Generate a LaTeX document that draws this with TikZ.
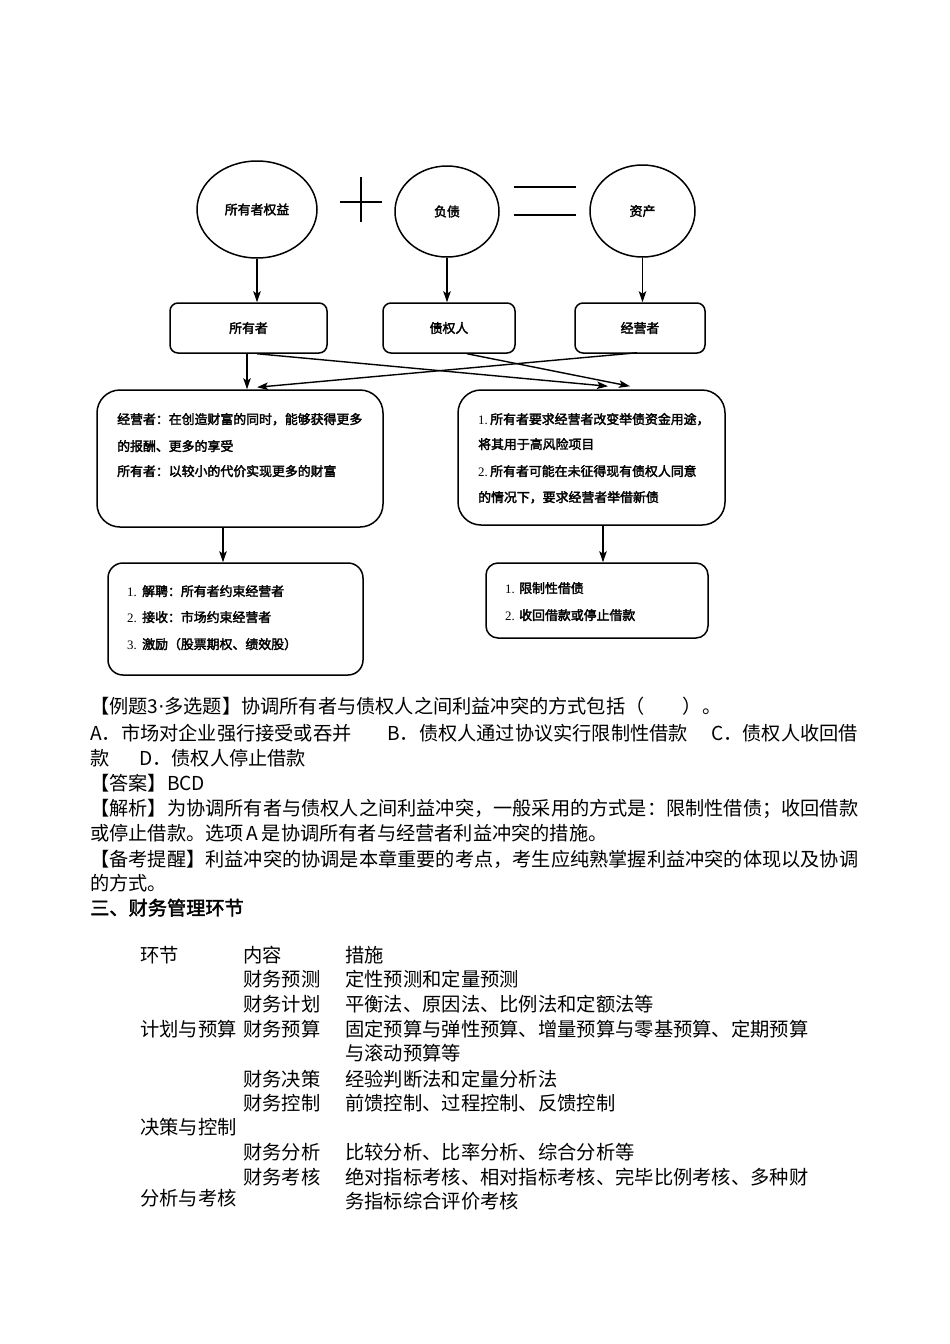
\documentclass[tikz,border=0pt]{standalone}
\usepackage{fontspec}
\setmainfont{Noto Sans CJK SC}
\newfontfamily\cjkb[FakeBold=2.5]{Noto Sans CJK SC}
\newfontfamily\cjkh[FakeBold=2]{Noto Sans CJK SC}
\newfontfamily\lserif{Liberation Serif}
\newfontfamily\lsans{DejaVu Sans}
\usetikzlibrary{shapes.geometric,arrows.meta}
\newcommand{\dn}[2][12pt]{\makebox[#1][l]{\lserif\fontsize{12.9}{15}\selectfont #2}}
\begin{document}
\begin{tikzpicture}[x=1pt,y=-1pt,
  shp/.style={draw, line width=1.5pt},
  circ/.style={shp, ellipse, inner sep=0, font=\cjkb\fontsize{12.9}{15}\selectfont},
  box/.style={shp, rectangle, rounded corners=#1, inner sep=0, font=\cjkb\fontsize{12.9}{15}\selectfont},
  box/.default=8pt,
  arr/.style={line width=1.4pt, -{Stealth[length=11pt,width=7.5pt,inset=2.5pt]}},
  body/.style={anchor=base west, inner sep=0, font=\fontsize{19.2}{23}\selectfont},
  tab/.style={anchor=base west, inner sep=0, font=\fontsize{19.3}{23}\selectfont},
  dtx/.style={anchor=base west, inner sep=0, font=\cjkb\fontsize{12.9}{15}\selectfont}
]
\useasboundingbox (0,0) rectangle (950,1344);
\fill[white] (0,0) rectangle (950,1344);

% top ellipses
\node[circ, minimum width=120pt, minimum height=97pt] (c1) at (257,209.5) {所有者权益};
\node[circ, minimum width=104pt, minimum height=91pt] (c2) at (447,211.5) {负债};
\node[circ, minimum width=105pt, minimum height=92pt] (c3) at (642.5,211) {资产};
% plus and equals
\draw[line width=1.5pt] (340,202) -- (382,202) (361,177) -- (361,222);
\draw[line width=1.5pt] (514,187) -- (576,187) (514,215) -- (576,215);

% parties
\node[box, minimum width=157pt, minimum height=50pt] (b1) at (248.5,328) {所有者};
\node[box, minimum width=132pt, minimum height=50pt] (b2) at (449,328) {债权人};
\node[box, minimum width=130pt, minimum height=50pt] (b3) at (640,328) {经营者};

% conflict boxes
\node[box=23pt, minimum width=286pt, minimum height=137pt] (L) at (240,458.5) {};
\node[box=23pt, minimum width=267pt, minimum height=135pt] (R) at (591.5,457.5) {};
% solution boxes
\node[box=15pt, minimum width=255pt, minimum height=112pt] (LL) at (235.5,619) {};
\node[box=12pt, minimum width=222pt, minimum height=75pt] (RR) at (597,600.5) {};

% arrows
\draw[arr] (c1.south) -- (c1.south |- b1.north);
\draw[arr] (c2.south) -- (c2.south |- b2.north);
\draw[arr] (c3.south) -- (c3.south |- b3.north);
\draw[arr] ([xshift=-1.5pt]b1.south) -- ([xshift=-1.5pt]b1.south |- L.north);
\draw[arr] ([xshift=8.5pt]b1.south) -- ([xshift=16.5pt,yshift=3pt]R.north);
\draw[arr] ([xshift=18pt]b2.south) -- ([xshift=38.5pt,yshift=3pt]R.north);
\draw[arr] ([xshift=-3pt,yshift=1pt]b3.south) -- ([xshift=17pt,yshift=2pt]L.north);
\draw[arr] ([xshift=-17pt]L.south) -- ([xshift=-17pt]L.south |- LL.north);
\draw[arr] ([xshift=11.5pt]R.south) -- ([xshift=11.5pt]R.south |- RR.north);

% texts in boxes
\node[dtx] (l1) at (117,424) {经营者：在创造财富的同时，能够获得更多};
\node[dtx] (l2) at (117,451) {的报酬、更多的享受};
\node[dtx] (l3) at (117,476) {所有者：以较小的代价实现更多的财富};
\node[dtx] (r1) at (478,424) {\dn{1.}所有者要求经营者改变举债资金用途，};
\node[dtx] (r2) at (478,449) {将其用于高风险项目};
\node[dtx] (r3) at (478,476) {\dn{2.}所有者可能在未征得现有债权人同意};
\node[dtx] (r4) at (478,502) {的情况下，要求经营者举借新债};
\node[dtx] (ll1) at (127,596) {\dn[15pt]{1.}解聘：所有者约束经营者};
\node[dtx] (ll2) at (127,622) {\dn[15pt]{2.}接收：市场约束经营者};
\node[dtx] (ll3) at (127,649) {\dn[15pt]{3.}激励（股票期权、绩效股）};
\node[dtx] (rr1) at (505,593) {\dn[14pt]{1.}限制性借债};
\node[dtx] (rr2) at (505,620) {\dn[14pt]{2.}收回借款或停止借款};

% body text
\node[body] (p1) at (90,713) {【例题3{\lsans·}多选题】协调所有者与债权人之间利益冲突的方式包括（　　）。};
\node[body] (p2a) at (90,740) {A．市场对企业强行接受或吞并};
\node[body] (p2b) at (387,740) {B．债权人通过协议实行限制性借款};
\node[body] (p2c) at (711,740) {C．债权人收回借};
\node[body] (p3a) at (90,765) {款};
\node[body] (p3b) at (139,765) {D．债权人停止借款};
\node[body] (p4) at (90,790) {【答案】BCD};
\node[body] (p5) at (90,815) {【解析】为协调所有者与债权人之间利益冲突，一般采用的方式是：限制性借债；收回借款};
\node[body] (p6) at (90,840) {或停止借款。选项\,A\,是协调所有者与经营者利益冲突的措施。};
\node[body] (p7) at (90,866) {【备考提醒】利益冲突的协调是本章重要的考点，考生应纯熟掌握利益冲突的体现以及协调};
\node[body] (p8) at (90,890) {的方式。};
\node[body, font=\cjkh\fontsize{19.2}{23}\selectfont] (p9) at (90,915) {三、财务管理环节};

% table
\node[tab] (h1) at (140,962) {环节};
\node[tab] (h2) at (243,962) {内容};
\node[tab] (h3) at (345,962) {措施};
\node[tab] (a1) at (243,986) {财务预测};
\node[tab] (a2) at (345,986) {定性预测和定量预测};
\node[tab] (b1t) at (243,1011) {财务计划};
\node[tab] (b2t) at (345,1011) {平衡法、原因法、比例法和定额法等};
\node[tab] (g1) at (140,1036) {计划与预算};
\node[tab] (d1) at (243,1036) {财务预算};
\node[tab] (d2) at (345,1036) {固定预算与弹性预算、增量预算与零基预算、定期预算};
\node[tab] (d3) at (345,1060) {与滚动预算等};
\node[tab] (e1) at (243,1086) {财务决策};
\node[tab] (e2) at (345,1086) {经验判断法和定量分析法};
\node[tab] (f1) at (243,1110) {财务控制};
\node[tab] (f2) at (345,1110) {前馈控制、过程控制、反馈控制};
\node[tab] (g2) at (140,1134) {决策与控制};
\node[tab] (h4) at (243,1159) {财务分析};
\node[tab] (h5) at (345,1159) {比较分析、比率分析、综合分析等};
\node[tab] (i1) at (243,1184) {财务考核};
\node[tab] (i2) at (345,1184) {绝对指标考核、相对指标考核、完毕比例考核、多种财};
\node[tab] (g3) at (140,1205) {分析与考核};
\node[tab] (i3) at (345,1208) {务指标综合评价考核};
\end{tikzpicture}
\end{document}
